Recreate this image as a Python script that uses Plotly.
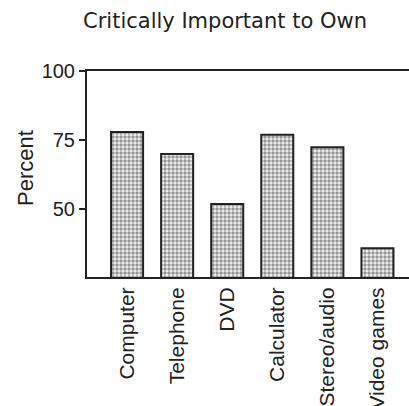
import plotly.graph_objects as go

categories = ["Computer", "Telephone", "DVD", "Calculator", "Stereo/audio", "Video games"]
percent = [78, 70, 52, 77, 72.5, 36]
y_ticks = [50, 75, 100]

W, H = 409, 406
L, R, T, B = 87, 0, 71, 129

fig = go.Figure(go.Bar(
    x=list(range(len(categories))),
    y=percent,
    width=0.64,
    marker=dict(
        color="white",
        line=dict(color="#222222", width=2),
        pattern=dict(shape=".", fgcolor="#333333", bgcolor="#f4f4f4", size=4, solidity=0.6),
    ),
))

fig.update_layout(
    width=W, height=H,
    margin=dict(l=L, r=R, t=T, b=B, autoexpand=False),
    paper_bgcolor="white", plot_bgcolor="white",
    showlegend=False,
    title=dict(text="Critically Important to Own", x=225 / W, xanchor="center", xref="container",
               y=1 - 21 / H, yanchor="middle", yref="container",
               font=dict(family="DejaVu Sans", size=21, color="#222222")),
    font=dict(family="Liberation Sans", color="#222222"),
)

fig.update_xaxes(
    range=[-0.8, 5.63], automargin=False,
    tickmode="array", tickvals=list(range(len(categories))), ticktext=categories,
    tickangle=-90, tickfont=dict(size=21, family="Liberation Sans", color="#222222"),
    showline=True, linecolor="#222222", linewidth=2, mirror=True,
    showgrid=False, zeroline=False, ticks="",
)
fig.update_yaxes(
    range=[25.6, 100], automargin=False,
    tickmode="array", tickvals=y_ticks, ticktext=[str(v) for v in y_ticks],
    tickfont=dict(size=20, family="Liberation Sans", color="#222222"),
    ticks="outside", ticklen=6, tickwidth=2, tickcolor="#222222",
    showline=True, linecolor="#222222", linewidth=2,
    showgrid=False, zeroline=False,
)

fig.add_annotation(
    text="Percent", xref="paper", yref="paper",
    x=(25 - L) / (W - L - R), y=(H - B - 168) / (H - T - B),
    xanchor="center", yanchor="middle", textangle=-90, showarrow=False,
    font=dict(size=22, family="Liberation Sans", color="#222222"),
)

fig.write_html("out.html", config={"displayModeBar": False},
               post_script="document.body.style.margin='0';document.body.style.overflow='hidden';")
